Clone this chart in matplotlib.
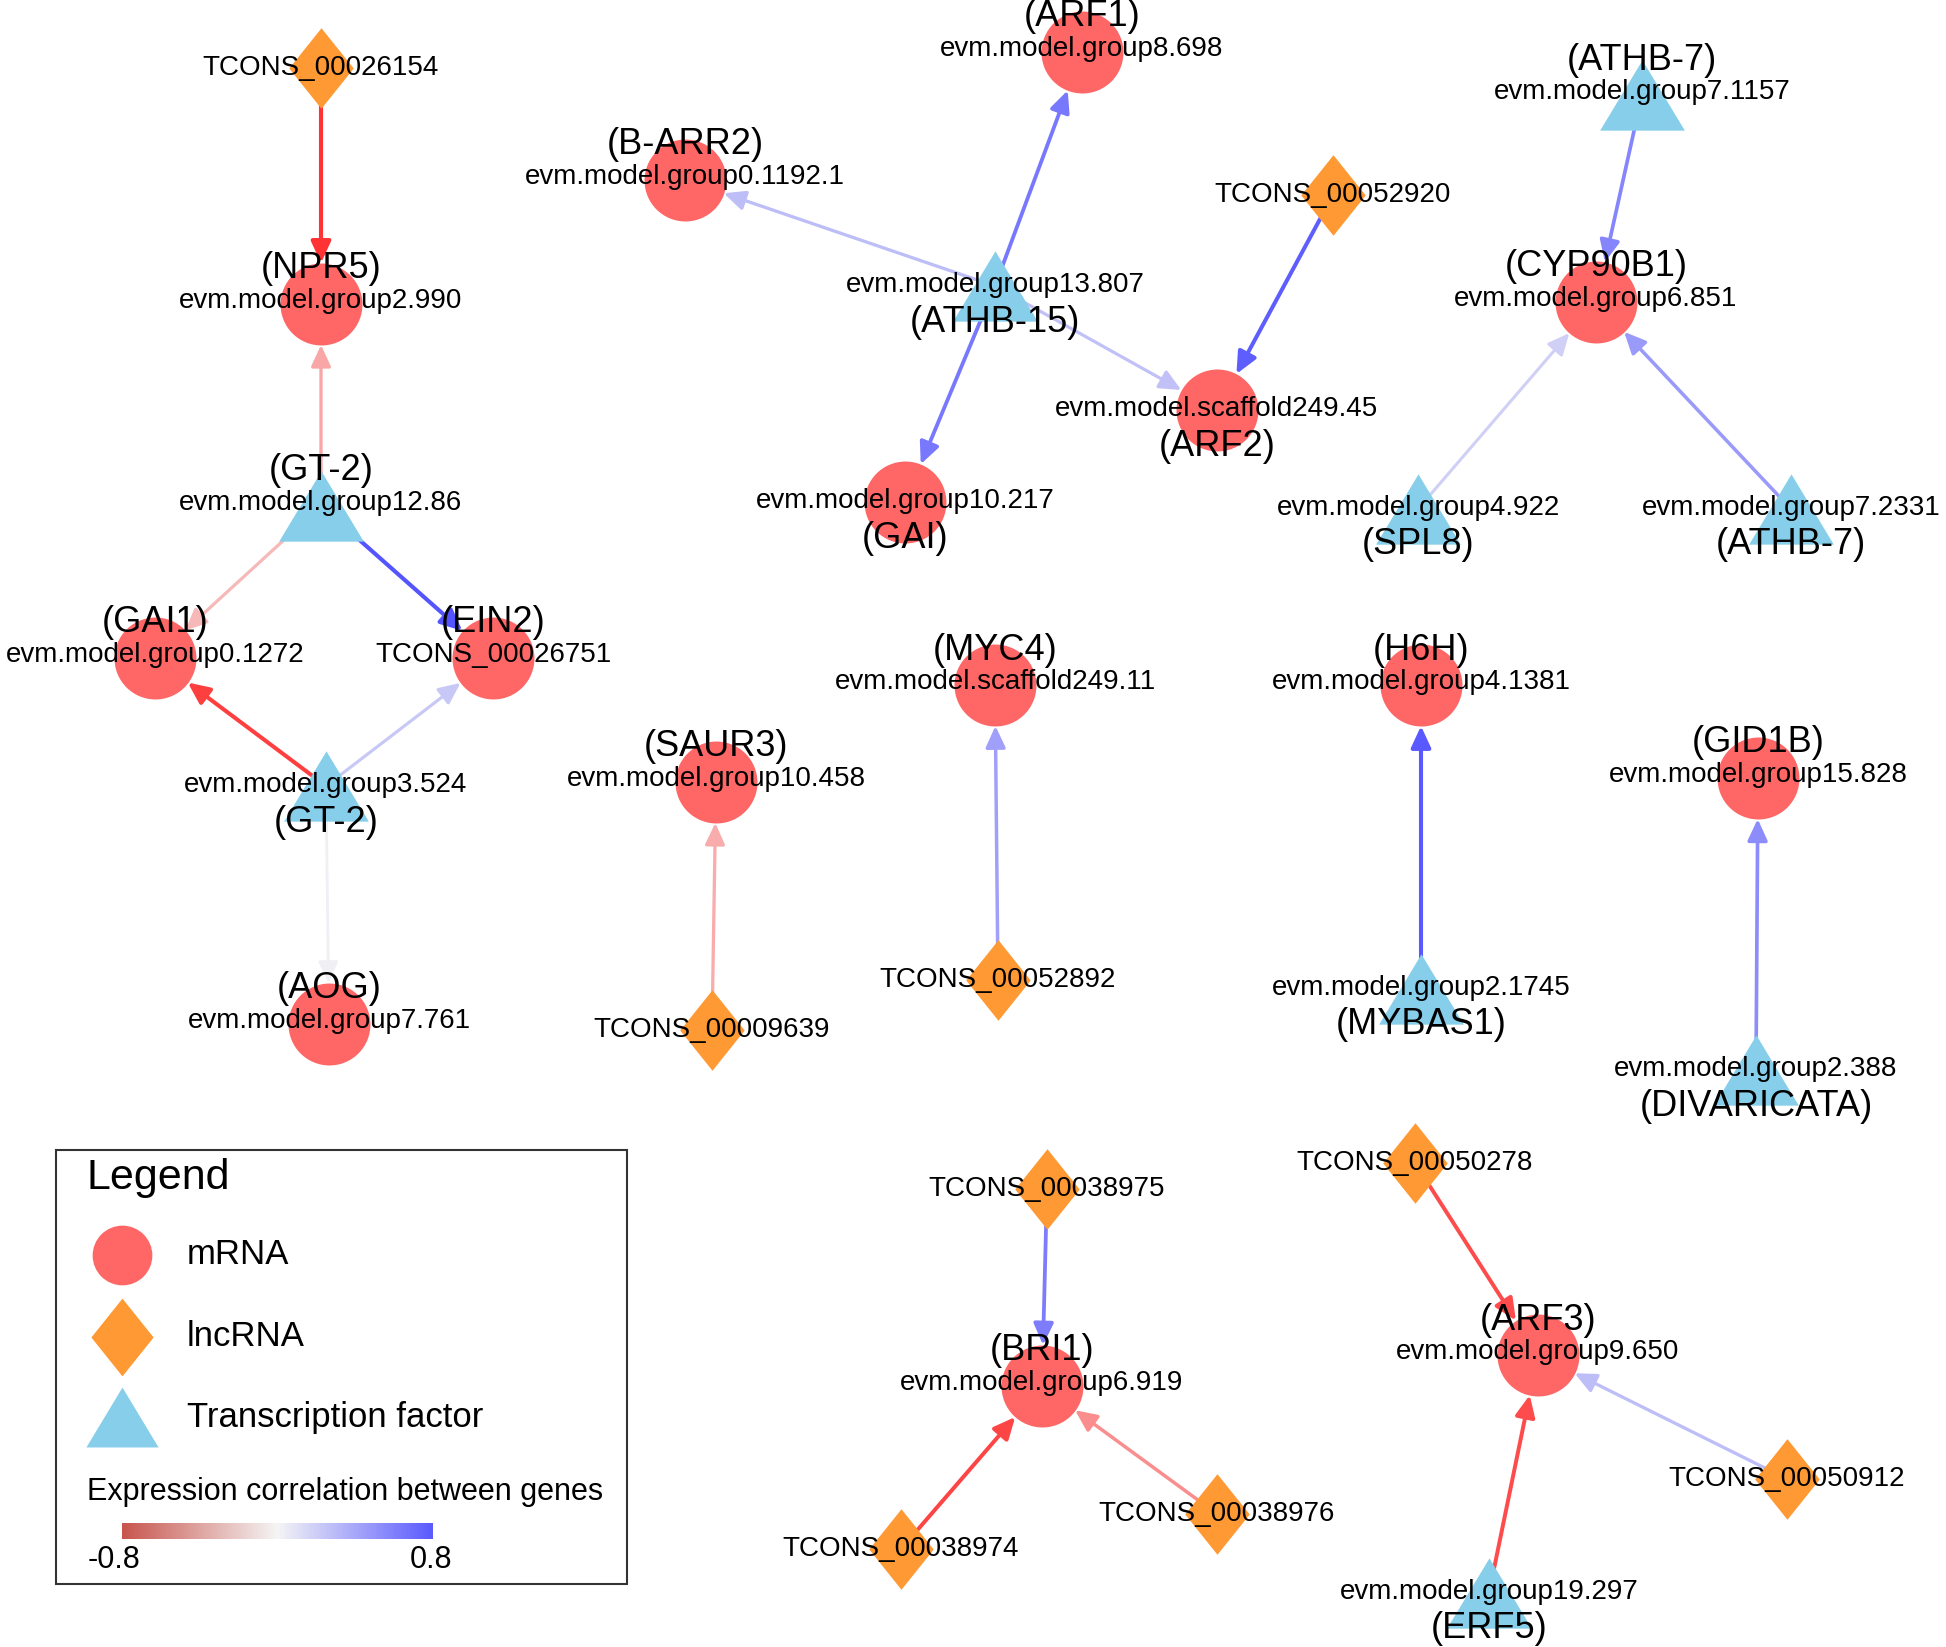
import matplotlib
matplotlib.use("Agg")
import matplotlib.pyplot as plt
import numpy as np
from matplotlib.colors import LinearSegmentedColormap, Normalize
from matplotlib.patches import FancyArrowPatch, Rectangle

plt.rcParams['font.family'] = ['Liberation Sans', 'DejaVu Sans']

# nodes: id, gene name, type, layout position (px), gene label above/below
node_ids = ['TCONS_00026154', 'evm.model.group2.990', 'evm.model.group12.86', 'evm.model.group0.1272',
            'TCONS_00026751', 'evm.model.group3.524', 'evm.model.group7.761',
            'evm.model.group0.1192.1', 'evm.model.group8.698', 'evm.model.group13.807',
            'evm.model.group10.217', 'evm.model.scaffold249.45', 'TCONS_00052920',
            'evm.model.group7.1157', 'evm.model.group6.851', 'evm.model.group4.922', 'evm.model.group7.2331',
            'evm.model.group10.458', 'TCONS_00009639', 'evm.model.scaffold249.11', 'TCONS_00052892',
            'evm.model.group4.1381', 'evm.model.group2.1745', 'evm.model.group15.828', 'evm.model.group2.388',
            'TCONS_00038975', 'evm.model.group6.919', 'TCONS_00038974', 'TCONS_00038976',
            'TCONS_00050278', 'evm.model.group9.650', 'TCONS_00050912', 'evm.model.group19.297']
node_genes = ['', 'NPR5', 'GT-2', 'GAI1',
              'EIN2', 'GT-2', 'AOG',
              'B-ARR2', 'ARF1', 'ATHB-15',
              'GAI', 'ARF2', '',
              'ATHB-7', 'CYP90B1', 'SPL8', 'ATHB-7',
              'SAUR3', '', 'MYC4', '',
              'H6H', 'MYBAS1', 'GID1B', 'DIVARICATA',
              '', 'BRI1', '', '',
              '', 'ARF3', '', 'ERF5']
node_types = ['lnc', 'm', 'tf', 'm',
              'm', 'tf', 'm',
              'm', 'm', 'tf',
              'm', 'm', 'lnc',
              'tf', 'm', 'tf', 'tf',
              'm', 'lnc', 'm', 'lnc',
              'm', 'tf', 'm', 'tf',
              'lnc', 'm', 'lnc', 'lnc',
              'lnc', 'm', 'lnc', 'tf']
node_x = [321, 321, 321, 155, 493, 326, 329,
          685, 1082, 995, 905, 1217, 1333,
          1642, 1596, 1418, 1791,
          716, 712, 995, 998,
          1421, 1421, 1758, 1756,
          1047, 1042, 901, 1217,
          1415, 1538, 1787, 1489]
node_y = [68, 304, 506, 658, 658, 786, 1024,
          180, 52, 286, 502, 410, 195,
          95, 302, 509, 509,
          782, 1030, 685, 980,
          685, 989, 778, 1070,
          1189, 1386, 1549, 1514,
          1163, 1355, 1479, 1593]
label_below = [False, False, False, False, False, True, False,
               False, False, True, True, True, False,
               False, False, True, True,
               False, False, False, False,
               False, True, False, True,
               False, False, False, False,
               False, False, False, True]

# edges: source index, target index, expression correlation
edge_src = [0, 2, 2, 2, 5, 5, 5, 9, 9, 9, 9, 12, 13, 15, 16, 18, 20, 22, 24, 25, 27, 28, 29, 32, 31]
edge_dst = [1, 1, 3, 4, 3, 4, 6, 7, 8, 10, 11, 11, 14, 14, 14, 17, 19, 21, 23, 26, 26, 26, 30, 30, 30]
edge_corr = [-0.80, -0.32, -0.25, 0.80, -0.75, 0.22, 0.02, 0.28, 0.62, 0.62, 0.25, 0.75, 0.55, 0.18, 0.45,
             -0.30, 0.42, 0.78, 0.52, 0.60, -0.72, -0.42, -0.70, -0.70, 0.28]

legend_labels = ['mRNA', 'lncRNA', 'Transcription factor']
cbar_ticks = [-0.8, 0.8]

face = {'m': '#FF6666', 'lnc': '#FF9933', 'tf': '#87CEEB'}
tri = [(-1, -0.83), (1, -0.83), (0, 0.83)]
dia = [(0, 1), (0.8, 0), (0, -1), (-0.8, 0)]
marker = {'m': 'o', 'lnc': dia, 'tf': tri}
msize = {'m': 59 ** 2, 'lnc': 58 ** 2, 'tf': 61 ** 2}
leg_size = {'m': 43 ** 2, 'lnc': 56 ** 2, 'tf': 52 ** 2}
radius_pt = {'m': 29.5, 'lnc': 28, 'tf': 25}

edge_cmap = LinearSegmentedColormap.from_list('edge', ['#FF3333', '#F4F4F4', '#5555FF'])
bar_cmap = LinearSegmentedColormap.from_list('bar', ['#C8554E', '#F5F5F5', '#5A5AFF'])
norm = Normalize(-0.8, 0.8)

W, H = 1946, 1647
fig = plt.figure(figsize=(W / 100, H / 100), dpi=100)
ax = fig.add_axes([0, 0, 1, 1])
ax.axis('off')

# edges
for s, d, c in zip(edge_src, edge_dst, edge_corr):
    lw = 2.0 + 1.2 * abs(c)
    arr = FancyArrowPatch((node_x[s], node_y[s]), (node_x[d], node_y[d]),
                          arrowstyle='-|>,head_length=13,head_width=6',
                          shrinkA=0, shrinkB=radius_pt[node_types[d]],
                          color=edge_cmap(norm(c)), lw=lw, zorder=1,
                          mutation_scale=1)
    ax.add_patch(arr)

# nodes
for t in ['m', 'lnc', 'tf']:
    idx = [i for i, tt in enumerate(node_types) if tt == t]
    ax.scatter([node_x[i] for i in idx], [node_y[i] for i in idx], s=msize[t],
               marker=marker[t], c=face[t], linewidths=0, zorder=2)

# labels
for i, nid in enumerate(node_ids):
    x, y = node_x[i], node_y[i]
    g = node_genes[i]
    if g == '':
        ax.text(x, y, nid, ha='center', va='center', fontsize=20, zorder=3)
    elif label_below[i]:
        ax.text(x, y - 1, nid, ha='center', va='center', fontsize=20, zorder=3)
        ax.text(x, y + 36, '(' + g + ')', ha='center', va='center', fontsize=26, zorder=3)
    else:
        ax.text(x, y - 3, nid, ha='center', va='center', fontsize=20, zorder=3)
        ax.text(x, y - 35, '(' + g + ')', ha='center', va='center', fontsize=26, zorder=3)

# legend box
ax.add_patch(Rectangle((56, 1150), 571, 434, fill=False, ec='#333333', lw=1.5, zorder=4))
ax.text(87, 1178, 'Legend', ha='left', va='center', fontsize=31, zorder=5)
ly = [1255, 1337, 1417]
for t, yy, lab in zip(['m', 'lnc', 'tf'], ly, legend_labels):
    ax.scatter([122], [yy], s=leg_size[t], marker=marker[t], c=face[t], linewidths=0, zorder=5)
    ax.text(187, yy, lab, ha='left', va='center', fontsize=25, zorder=5)
ax.text(87, 1492, 'Expression correlation between genes', ha='left', va='center', fontsize=22, zorder=5)
grad = np.linspace(-0.8, 0.8, 256).reshape(1, -1)
ax.imshow(grad, cmap=bar_cmap, norm=norm, extent=(122, 433, 1539, 1523), aspect='auto', zorder=5)
ax.text(114, 1560, f'{cbar_ticks[0]:.1f}', ha='center', va='center', fontsize=22, zorder=5)
ax.text(431, 1560, f'{cbar_ticks[1]:.1f}', ha='center', va='center', fontsize=22, zorder=5)
ax.set_xlim(0, W)
ax.set_ylim(H, 0)

fig.savefig('out.png', dpi=100, facecolor='white')
